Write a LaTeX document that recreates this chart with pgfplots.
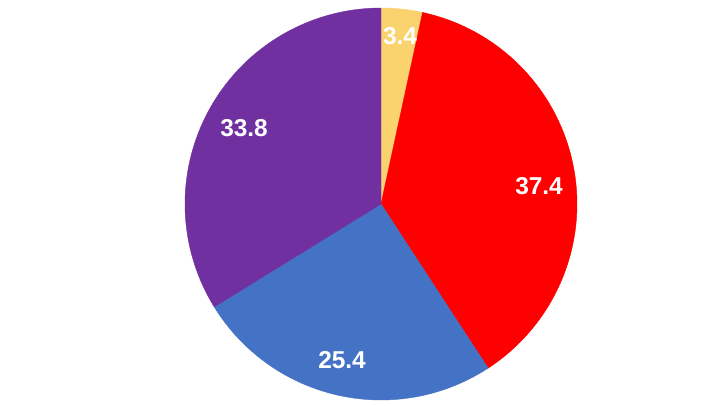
\documentclass[border=0pt]{standalone}
\usepackage{pgfplots}
\pgfplotsset{compat=1.18}
\usepackage{fontspec}
\setmainfont{Liberation Sans}
\definecolor{cYel}{HTML}{FAD26E}
\definecolor{cRed}{HTML}{FF0000}
\definecolor{cBlue}{HTML}{4472C4}
\definecolor{cPur}{HTML}{7030A0}
\begin{document}
\begin{tikzpicture}
% slice values (percent), clockwise from top
\def\vA{3.4}\def\vB{37.4}\def\vC{25.4}\def\vD{33.8}
\def\cx{381}\def\cy{201}\def\R{196}
\pgfmathsetmacro{\aA}{90}
\pgfmathsetmacro{\aB}{\aA-3.6*\vA}
\pgfmathsetmacro{\aC}{\aB-3.6*\vB}
\pgfmathsetmacro{\aD}{\aC-3.6*\vC}
\pgfmathsetmacro{\aE}{\aD-3.6*\vD}
\begin{axis}[
  width=720bp, height=405bp, scale only axis,
  xmin=0, xmax=720, ymin=0, ymax=405,
  hide axis, clip=false,
]
\path (axis cs:0,0) rectangle (axis cs:720,405);
\addplot[fill=cYel, draw=cYel, domain=\aB:\aA, samples=20, variable=\t]
  ({\cx+\R*cos(\t)},{\cy+\R*sin(\t)}) -- (axis cs:\cx,\cy) -- cycle;
\addplot[fill=cRed, draw=cRed, domain=\aC:\aB, samples=120, variable=\t]
  ({\cx+\R*cos(\t)},{\cy+\R*sin(\t)}) -- (axis cs:\cx,\cy) -- cycle;
\addplot[fill=cBlue, draw=cBlue, domain=\aD:\aC, samples=100, variable=\t]
  ({\cx+\R*cos(\t)},{\cy+\R*sin(\t)}) -- (axis cs:\cx,\cy) -- cycle;
\addplot[fill=cPur, draw=cPur, domain=\aE:\aD, samples=120, variable=\t]
  ({\cx+\R*cos(\t)},{\cy+\R*sin(\t)}) -- (axis cs:\cx,\cy) -- cycle;
\begin{scope}[every node/.style={text=white, font=\fontsize{24.5}{28}\selectfont\bfseries, inner sep=0pt}]
\node at (axis cs:400,369) {3.4};
\node at (axis cs:539,219) {37.4};
\node at (axis cs:342,45) {25.4};
\node at (axis cs:244,277) {33.8};
\end{scope}
\end{axis}
\end{tikzpicture}
\end{document}
